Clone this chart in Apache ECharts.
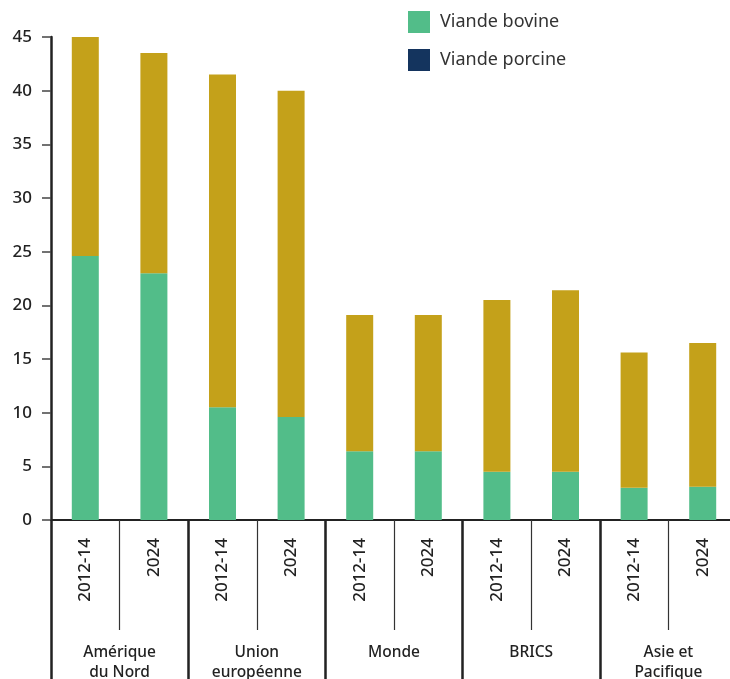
<!DOCTYPE html>
<html>
<head>
<meta charset="utf-8">
<script src="https://cdn.jsdelivr.net/npm/echarts@6/dist/echarts.min.js"></script>
<style>
  html, body { margin: 0; padding: 0; background: #fff; }
  #chart { width: 730px; height: 679px; }
</style>
</head>
<body>
<div id="chart"></div>
<script>
// Periods shown under each bar, grouped two by two per region
const periods = ['2012-14', '2024', '2012-14', '2024', '2012-14', '2024', '2012-14', '2024', '2012-14', '2024'];
const regions = ['Amérique\ndu Nord', 'Union\neuropéenne', 'Monde', 'BRICS', 'Asie et\nPacifique'];

// Consumption per capita (kg), stacked
const bovine  = [24.6, 23.0, 10.5, 9.6, 6.4, 6.4, 4.5, 4.5, 3.0, 3.1];
const porcine = [20.4, 20.5, 31.0, 30.4, 12.7, 12.7, 16.0, 16.9, 12.6, 13.4];

const yTicks = { min: 0, max: 45, interval: 5 };

const FONT = '"Noto Sans", sans-serif';
const GREEN = '#52bd89';
const GOLD = '#c4a11a';
const NAVY = '#14345e';
const INK = '#222222';

const chart = echarts.init(document.getElementById('chart'));
chart.setOption({
  animation: false,
  textStyle: { fontFamily: FONT },
  legend: {
    orient: 'vertical',
    left: 408,
    top: 11,
    padding: 0,
    itemWidth: 22,
    itemHeight: 22,
    itemGap: 16,
    icon: 'rect',
    selectedMode: false,
    textStyle: { fontSize: 18, color: '#333', fontFamily: FONT, padding: [0, 0, 0, 5] },
    data: [
      { name: 'Viande bovine', itemStyle: { color: GREEN } },
      { name: 'Viande porcine', itemStyle: { color: NAVY } }
    ]
  },
  grid: {
    left: 51,
    top: 37,
    right: -7,
    bottom: 159,
    containLabel: false,
    outerBoundsMode: 'none'
  },
  xAxis: [
    {
      type: 'category',
      data: periods,
      position: 'bottom',
      axisLine: { show: true, lineStyle: { color: INK, width: 2 } },
      axisTick: { show: true, alignWithLabel: false, length: 110, lineStyle: { color: '#333', width: 1.2 } },
      axisLabel: {
        rotate: 90,
        margin: 18,
        fontSize: 17,
        color: INK,
        fontWeight: 500,
        fontFamily: FONT
      }
    },
    {
      type: 'category',
      data: regions,
      position: 'bottom',
      offset: 0,
      axisLine: { show: false },
      axisTick: { show: true, length: 160, lineStyle: { color: INK, width: 2.5 } },
      axisLabel: {
        margin: 123,
        fontSize: 15.5,
        lineHeight: 20,
        color: INK,
        fontWeight: 500,
        fontFamily: FONT
      }
    }
  ],
  yAxis: {
    type: 'value',
    min: yTicks.min,
    max: yTicks.max,
    interval: yTicks.interval,
    axisLine: { show: true, lineStyle: { color: INK, width: 2.5 } },
    axisTick: { show: true, length: 9, lineStyle: { color: '#444', width: 1.5 } },
    splitLine: { show: false },
    axisLabel: { margin: 19, fontSize: 17, color: INK, fontWeight: 500, fontFamily: FONT }
  },
  series: [
    {
      name: 'Viande bovine',
      type: 'bar',
      stack: 'viande',
      xAxisIndex: 0,
      barWidth: 27,
      itemStyle: { color: GREEN },
      data: bovine
    },
    {
      name: 'Viande porcine',
      type: 'bar',
      stack: 'viande',
      xAxisIndex: 0,
      barWidth: 27,
      itemStyle: { color: GOLD },
      data: porcine
    }
  ]
});
</script>
</body>
</html>
